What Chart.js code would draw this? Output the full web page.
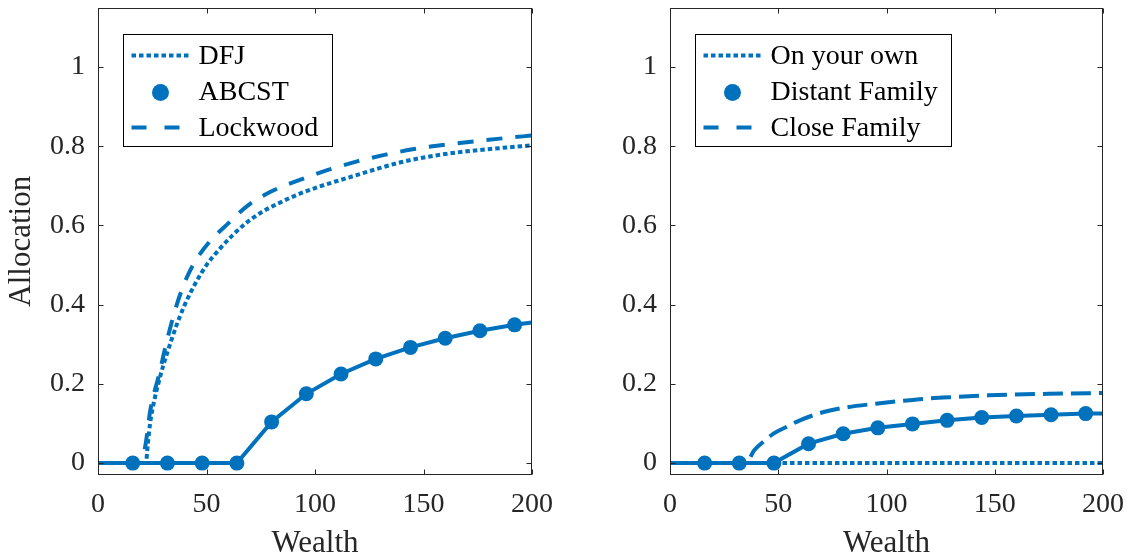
<!DOCTYPE html>
<html>
<head>
<meta charset="utf-8">
<script src="https://cdn.jsdelivr.net/npm/chart.js@4.4.1/dist/chart.umd.min.js"></script>
<style>
  html, body { margin: 0; padding: 0; background: #fff; }
  #painel_esq { position: absolute; left: 0; top: 0; width: 560px; height: 558px; }
  #painel_dir { position: absolute; left: 560px; top: 0; width: 569px; height: 558px; }
</style>
</head>
<body>
<div id="painel_esq"><canvas id="chart_esq"></canvas></div>
<div id="painel_dir"><canvas id="chart_dir"></canvas></div>
<script>
// Eixos
const xTicks = [0, 50, 100, 150, 200];
const yTicks = [0, 0.2, 0.4, 0.6, 0.8, 1];

// Painel esquerdo
const dfjX = [0, 22, 23, 24, 26, 28, 30, 32, 36, 40, 45, 50, 56, 62, 68, 75, 84, 93, 102, 112, 121, 130, 140, 155, 170, 185, 200];
const dfjY = [0, 0, 0.05, 0.10, 0.16, 0.205, 0.245, 0.28, 0.345, 0.40, 0.455, 0.50, 0.54, 0.575, 0.605, 0.632, 0.658, 0.68, 0.698, 0.715, 0.73, 0.745, 0.76, 0.776, 0.787, 0.795, 0.802];

const abcstX = [0, 16, 32, 48, 64, 80, 96, 112, 128, 144, 160, 176, 192, 200];
const abcstY = [0, 0, 0, 0, 0, 0.104, 0.175, 0.225, 0.263, 0.292, 0.315, 0.334, 0.349, 0.355];

const lockwoodX = [0, 20, 22, 24, 26, 28, 31, 35, 39, 44, 51, 60, 69, 80, 93, 106, 119, 132, 145, 159, 173, 187, 200];
const lockwoodY = [0, 0, 0.05, 0.13, 0.18, 0.22, 0.292, 0.376, 0.443, 0.502, 0.556, 0.605, 0.65, 0.686, 0.715, 0.74, 0.761, 0.778, 0.792, 0.803, 0.812, 0.82, 0.827];

// Painel direito
const sozinhoX = [0, 200];
const sozinhoY = [0, 0];

const distanteX = [0, 16, 32, 48, 64, 80, 96, 112, 128, 144, 160, 176, 192, 200];
const distanteY = [0, 0, 0, 0, 0.049, 0.074, 0.089, 0.099, 0.108, 0.115, 0.119, 0.122, 0.125, 0.125];

const proximaX = [0, 35, 39, 44, 48, 54, 60, 71, 82, 95, 107, 119, 132, 147, 159, 175, 200];
const proximaY = [0, 0, 0.033, 0.058, 0.075, 0.092, 0.108, 0.129, 0.141, 0.15, 0.157, 0.163, 0.167, 0.171, 0.173, 0.175, 0.177];

const AZUL = '#0072BD';
const CINZA = '#262626';
const FONTE = '"Liberation Serif", "Times New Roman", serif';

function pontos(xs, ys) {
  return xs.map((x, i) => ({ x: x, y: ys[i] }));
}

// Marcadores só nos pontos internos (sem as pontas 0 e 200)
function marcadores(xs, ys) {
  return pontos(xs, ys).slice(1, -1);
}

// Caixa do gráfico + ticks para dentro
const moldura = {
  id: 'moldura',
  afterDraw(chart) {
    const { ctx, chartArea: a, scales } = chart;
    const L = Math.round(a.left) + 0.5, R = Math.round(a.right) - 0.5;
    const T = Math.round(a.top) + 0.5, B = Math.round(a.bottom) - 0.5;
    ctx.save();
    ctx.strokeStyle = CINZA;
    ctx.lineWidth = 1;
    ctx.beginPath();
    xTicks.forEach(v => {
      const px = Math.round(scales.x.getPixelForValue(v)) + 0.5;
      ctx.moveTo(px, B); ctx.lineTo(px, B - 5);
      ctx.moveTo(px, T); ctx.lineTo(px, T + 5);
    });
    yTicks.forEach(v => {
      const py = Math.round(scales.y.getPixelForValue(v)) + 0.5;
      ctx.moveTo(L, py); ctx.lineTo(L + 5, py);
      ctx.moveTo(R, py); ctx.lineTo(R - 5, py);
    });
    ctx.stroke();
    ctx.strokeRect(L, T, R - L, B - T);
    ctx.restore();
  }
};

// Legenda dentro da área do gráfico (canto superior esquerdo)
const legendaInterna = {
  id: 'legendaInterna',
  afterDraw(chart, args, opts) {
    const { ctx, chartArea: a } = chart;
    const x0 = Math.round(a.left + 25) + 0.5;
    const y0 = Math.round(a.top + 26) + 0.5;
    const itens = opts.ordem.map(i => chart.data.datasets[i]);
    ctx.save();
    ctx.font = '28px ' + FONTE;
    const larg = Math.max(...itens.map(d => ctx.measureText(d.label).width));
    const w = Math.round(75 + larg + 14), h = 112;
    ctx.fillStyle = '#fff';
    ctx.fillRect(x0, y0, w, h);
    ctx.strokeStyle = '#000';
    ctx.lineWidth = 1;
    ctx.strokeRect(x0, y0, w, h);

    itens.forEach((d, k) => {
      const yc = y0 + 21 + k * 36;
      if (d.showLine === false) {
        ctx.fillStyle = AZUL;
        ctx.beginPath();
        ctx.arc(x0 + 37, yc + 1, 8.5, 0, Math.PI * 2);
        ctx.fill();
      } else {
        ctx.strokeStyle = AZUL;
        ctx.lineWidth = 4;
        ctx.setLineDash(d.legendaDash || []);
        ctx.beginPath();
        ctx.moveTo(x0 + 8, yc);
        ctx.lineTo(x0 + 68, yc);
        ctx.stroke();
        ctx.setLineDash([]);
      }
      ctx.fillStyle = '#000';
      ctx.textBaseline = 'middle';
      ctx.fillText(d.label, x0 + 75, yc + 1);
    });
    ctx.restore();
  }
};

function linha(label, xs, ys, dash, legendaDash) {
  return {
    label: label,
    data: pontos(xs, ys),
    borderColor: AZUL,
    borderWidth: 4,
    borderDash: dash,
    borderCapStyle: 'butt',
    legendaDash: legendaDash,
    pointRadius: 0,
    cubicInterpolationMode: 'monotone'
  };
}

function solida(xs, ys) {
  return {
    label: '',
    data: pontos(xs, ys),
    borderColor: AZUL,
    borderWidth: 4,
    pointRadius: 0,
    tension: 0
  };
}

function bolinhas(label, xs, ys) {
  return {
    label: label,
    data: marcadores(xs, ys),
    showLine: false,
    backgroundColor: AZUL,
    borderColor: AZUL,
    pointRadius: 7.5,
    pointBorderWidth: 0
  };
}

function opcoes(larguraY, padDir, tituloY) {
  return {
    responsive: true,
    maintainAspectRatio: false,
    animation: false,
    layout: { padding: { top: 5, right: padDir, left: 0, bottom: 0 } },
    scales: {
      x: {
        type: 'linear',
        min: 0,
        max: 200,
        afterBuildTicks: s => { s.ticks = xTicks.map(v => ({ value: v })); },
        afterFit: s => { s.height = 83; s.paddingLeft = 0; s.paddingRight = 0; },
        grid: { display: false, drawTicks: false },
        border: { display: false },
        ticks: {
          color: CINZA,
          padding: 13,
          maxRotation: 0,
          font: { family: FONTE, size: 28 }
        },
        title: {
          display: true,
          text: 'Wealth',
          color: CINZA,
          padding: { top: 0, bottom: 0 },
          font: { family: FONTE, size: 31, lineHeight: 0.9 }
        }
      },
      y: {
        type: 'linear',
        min: -0.03,
        max: 1.15,
        afterBuildTicks: s => { s.ticks = yTicks.map(v => ({ value: v })); },
        afterFit: s => { s.width = larguraY; s.paddingTop = 0; s.paddingBottom = 0; },
        grid: { display: false, drawTicks: false },
        border: { display: false },
        ticks: {
          color: CINZA,
          padding: 13,
          font: { family: FONTE, size: 28 },
          callback: v => String(+v.toFixed(1))
        },
        title: {
          display: tituloY !== '',
          text: tituloY,
          color: CINZA,
          padding: { top: 8, bottom: 0 },
          font: { family: FONTE, size: 31, lineHeight: 0.9 }
        }
      }
    },
    plugins: {
      legend: { display: false },
      tooltip: { enabled: false },
      legendaInterna: { ordem: [2, 0, 3] }
    }
  };
}

// Índice 0 é desenhado por cima
new Chart(document.getElementById('chart_esq'), {
  type: 'line',
  data: {
    datasets: [
      bolinhas('ABCST', abcstX, abcstY),
      solida(abcstX, abcstY),
      linha('DFJ', dfjX, dfjY, [4.5, 3], [4.5, 3]),
      linha('Lockwood', lockwoodX, lockwoodY, [16, 13], [15, 18])
    ]
  },
  options: opcoes(98, 28, 'Allocation'),
  plugins: [moldura, legendaInterna]
});

new Chart(document.getElementById('chart_dir'), {
  type: 'line',
  data: {
    datasets: [
      bolinhas('Distant Family', distanteX, distanteY),
      solida(distanteX, distanteY),
      linha('On your own', sozinhoX, sozinhoY, [4.5, 3], [4.5, 3]),
      linha('Close Family', proximaX, proximaY, [20, 8], [15, 18])
    ]
  },
  options: opcoes(110, 26, ''),
  plugins: [moldura, legendaInterna]
});
</script>
</body>
</html>
